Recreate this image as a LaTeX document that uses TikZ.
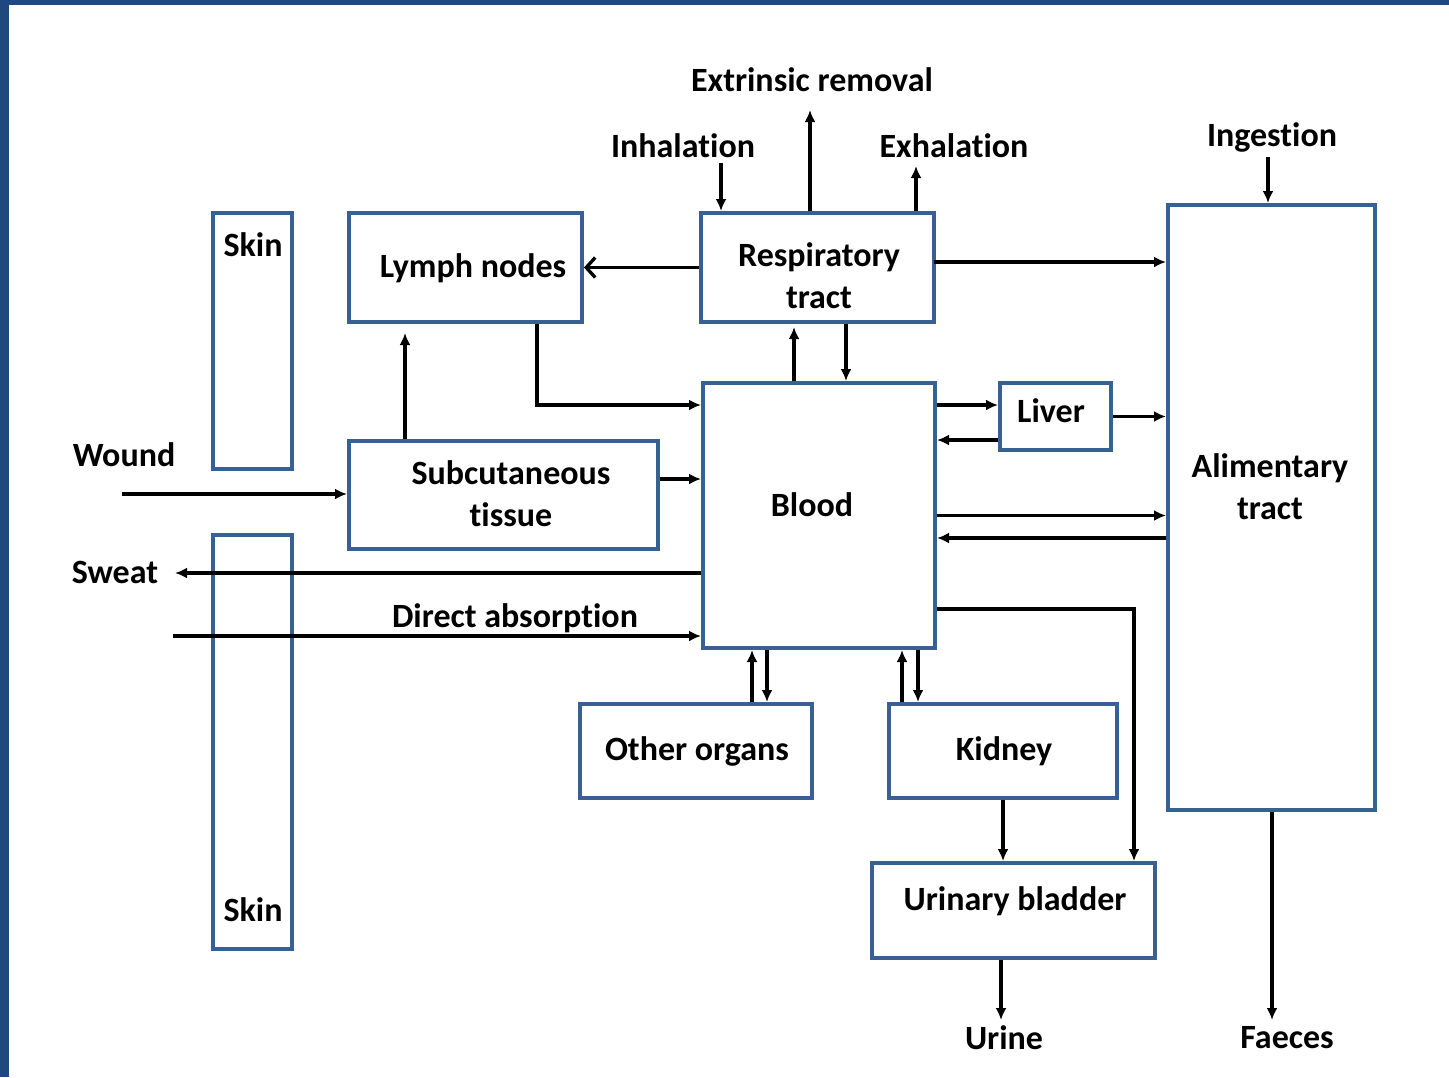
\documentclass[tikz,border=0pt]{standalone}
\usepackage{fontspec}
\setmainfont{Carlito}[Ligatures={NoCommon}]
\usetikzlibrary{arrows.meta}
\definecolor{frameblue}{RGB}{31,73,125}
\definecolor{boxblue}{RGB}{56,96,146}
\begin{document}
\begin{tikzpicture}[x=1pt,y=-1pt,
  txt/.style={font=\bfseries\fontsize{34}{42}\selectfont, inner sep=0pt, align=center},
  box/.style={draw=boxblue, line width=4pt, rectangle, inner sep=0pt, align=center,
              font=\bfseries\fontsize{34}{42}\selectfont},
  arr/.style={line width=3.3pt, -{Latex[length=12pt,width=11pt]}},
  open/.style={line width=3.3pt, -{Straight Barb[length=9pt,width=20pt,line width=3.3pt]}},
]
\useasboundingbox (0,0) rectangle (1449,1077);
\fill[white] (0,0) rectangle (1449,1077);
\fill[frameblue] (0,0) rectangle (1449,5);
\fill[frameblue] (0,0) rectangle (9,1077);

% boxes
\node[box, minimum width=79, minimum height=256] (skinT) at (252.5,341) {};
\node[box, minimum width=79, minimum height=414] (skinB) at (252.5,742) {};
\node[txt] (skinTl) at (253,245) {Skin};
\node[txt] (skinBl) at (253,910) {Skin};
\node[box, minimum width=233, minimum height=109] (lymph) at (465.5,267.5) {};
\node[txt] (lymphl) at (473,268) {Lymph nodes};
\node[box, minimum width=233, minimum height=109] (resp) at (817.5,267.5) {};
\node[txt] (respl) at (819,276) {Respiratory\\tract};
\node[box, minimum width=232, minimum height=265] (blood) at (819,515.5) {};
\node[txt] (bloodl) at (812,505) {Blood};
\node[box, minimum width=111, minimum height=67] (liver) at (1055.5,416.5) {};
\node[txt] (liverl) at (1051,411) {Liver};
\node[box, minimum width=207, minimum height=605] (ali) at (1271.5,507.5) {};
\node[txt] (alil) at (1270,487) {Alimentary\\tract};
\node[box, minimum width=309, minimum height=108] (subc) at (503.5,495) {};
\node[txt] (subcl) at (511,494) {Subcutaneous\\tissue};
\node[box, minimum width=232, minimum height=94] (other) at (696,751) {};
\node[txt] (otherl) at (697,751) {Other organs};
\node[box, minimum width=228, minimum height=94] (kidney) at (1003,751) {};
\node[txt] (kidneyl) at (1004,751) {Kidney};
\node[box, minimum width=283, minimum height=95] (bladder) at (1013.5,910.5) {};
\node[txt] (bladderl) at (1015,901) {Urinary bladder};

% free labels
\node[txt] (extl) at (812,80) {Extrinsic removal};
\node[txt] (inhl) at (683,146) {Inhalation};
\node[txt] (exhl) at (954,146) {Exhalation};
\node[txt] (ingl) at (1272,137) {Ingestion};
\node[txt] (woundl) at (124,455) {Wound};
\node[txt] (sweatl) at (115,572) {Sweat};
\node[txt] (dal) at (515,618) {Direct absorption};
\node[txt] (urinel) at (1004,1038) {Urine};
\node[txt] (faecesl) at (1287,1038) {Faeces};

% helper coordinates
\coordinate (inh) at (721,163);
\coordinate (ext) at (810,110);
\coordinate (exh) at (916,166);
\coordinate (ra) at (934,262);
\coordinate (lb) at (537,405);
\coordinate (sl) at (405,333);
\coordinate (sb) at (658,479);
\coordinate (wd) at (122,494);
\coordinate (sw) at (175,573);
\coordinate (da) at (173,636);
\coordinate (rb1) at (794,327);
\coordinate (rb2) at (846,0);
\coordinate (bl1) at (0,405);
\coordinate (bl2) at (0,440);
\coordinate (ab) at (0,538);
\coordinate (ing) at (1268,157);
\coordinate (fc) at (1272,1020);
\coordinate (bo1) at (752,0);
\coordinate (bo2) at (767,0);
\coordinate (bk1) at (902,0);
\coordinate (bk2) at (918,0);
\coordinate (bb) at (1134,609);
\coordinate (ur) at (1001,1020);

% connectors
\draw[arr] (inh) -- (inh |- resp.north);
\draw[arr] (ext |- resp.north) -- (ext);
\draw[arr] (exh |- resp.north) -- (exh);
\draw[open] (resp.west) -- (lymph.east);
\draw[arr] (ra) -- (ra -| ali.west);
\draw[arr, line width=4.2pt] (lb |- lymph.south) -- (lb) -- (lb -| blood.west);
\draw[arr] (sl |- subc.north) -- (sl);
\draw[arr] (sb -| subc.east) -- (sb -| blood.west);
\draw[arr] (wd) -- (wd -| subc.west);
\draw[arr] (sw -| blood.west) -- (sw);
\draw[arr] (da) -- (da -| blood.west);
\draw[arr] (rb1 |- blood.north) -- (rb1);
\draw[arr] (rb2 |- resp.south) -- (rb2 |- blood.north);
\draw[arr] (bl1 -| blood.east) -- (bl1 -| liver.west);
\draw[arr] (bl2 -| liver.west) -- (bl2 -| blood.east);
\draw[arr] (liver.east) -- (liver.east -| ali.west);
\draw[arr] (blood.east) -- (blood.east -| ali.west);
\draw[arr] (ab -| ali.west) -- (ab -| blood.east);
\draw[arr] (ing) -- (ing |- ali.north);
\draw[arr] (fc |- ali.south) -- (fc);
\draw[arr] (bo1 |- other.north) -- (bo1 |- blood.south);
\draw[arr] (bo2 |- blood.south) -- (bo2 |- other.north);
\draw[arr] (bk1 |- kidney.north) -- (bk1 |- blood.south);
\draw[arr] (bk2 |- blood.south) -- (bk2 |- kidney.north);
\draw[arr] (kidney.south) -- (kidney.south |- bladder.north);
\draw[arr] (bb -| blood.east) -- (bb) -- (bb |- bladder.north);
\draw[arr] (ur |- bladder.south) -- (ur);
\end{tikzpicture}
\end{document}
